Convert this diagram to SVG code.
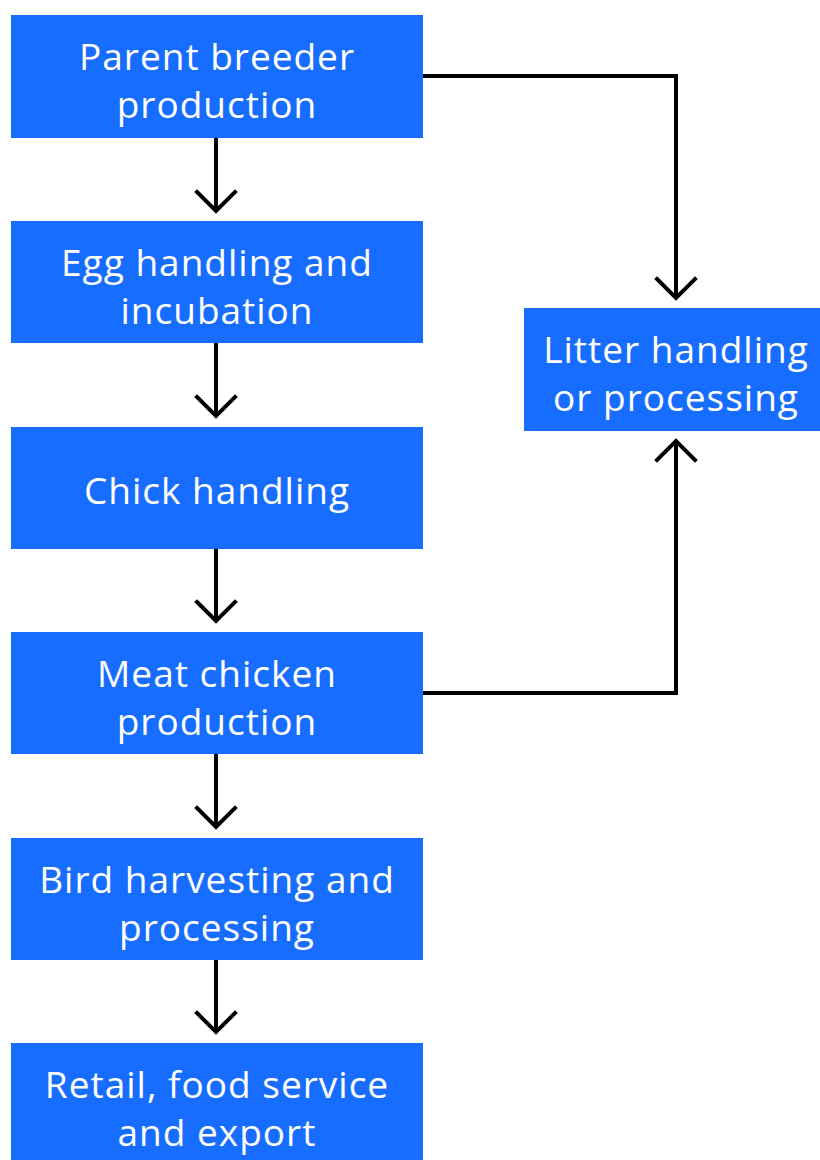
<svg xmlns="http://www.w3.org/2000/svg" width="820" height="1160" viewBox="0 0 820 1160">
<style>
.box{fill:#176dff}
.t{font-family:"Open Sans","Noto Sans",sans-serif;font-size:37px;letter-spacing:1px;fill:#ffffff;text-anchor:middle}
.c{fill:none;stroke:#000;stroke-width:4;stroke-linejoin:miter}
.h{fill:none;stroke:#000;stroke-width:4;stroke-linecap:square}
</style>
<rect width="820" height="1160" fill="#ffffff"/>
<g id="connectors">
<path class="c" d="M216 138V212"/><path class="h" d="M197 192L216 211L235 192"/>
<path class="c" d="M216 343V417"/><path class="h" d="M197 397L216 416L235 397"/>
<path class="c" d="M216 549V622"/><path class="h" d="M197 602L216 621L235 602"/>
<path class="c" d="M216 754V828"/><path class="h" d="M197 808L216 827L235 808"/>
<path class="c" d="M216 960V1033"/><path class="h" d="M197 1013L216 1032L235 1013"/>
<path class="c" d="M423 76H676V298"/><path class="h" d="M657 279L676 298L695 279"/>
<path class="c" d="M423 693H676V441"/><path class="h" d="M657 460L676 441L695 460"/>
</g>
<g id="n1"><rect class="box" x="11" y="15" width="412" height="123"/><text class="t" x="217" y="70">Parent breeder</text><text class="t" x="217" y="118">production</text></g>
<g id="n2"><rect class="box" x="11" y="221" width="412" height="122"/><text class="t" x="217" y="276">Egg handling and</text><text class="t" x="217" y="324">incubation</text></g>
<g id="n3"><rect class="box" x="11" y="427" width="412" height="122"/><text class="t" x="217" y="504">Chick handling</text></g>
<g id="n4"><rect class="box" x="11" y="632" width="412" height="122"/><text class="t" x="217" y="687">Meat chicken</text><text class="t" x="217" y="735">production</text></g>
<g id="n5"><rect class="box" x="11" y="838" width="412" height="122"/><text class="t" x="217" y="893">Bird harvesting and</text><text class="t" x="217" y="941">processing</text></g>
<g id="n6"><rect class="box" x="11" y="1043" width="412" height="125"/><text class="t" x="217" y="1098">Retail, food service</text><text class="t" x="217" y="1146">and export</text></g>
<g id="n7"><rect class="box" x="524" y="308" width="304" height="123"/><text class="t" x="676" y="363">Litter handling</text><text class="t" x="676" y="411">or processing</text></g>
</svg>
